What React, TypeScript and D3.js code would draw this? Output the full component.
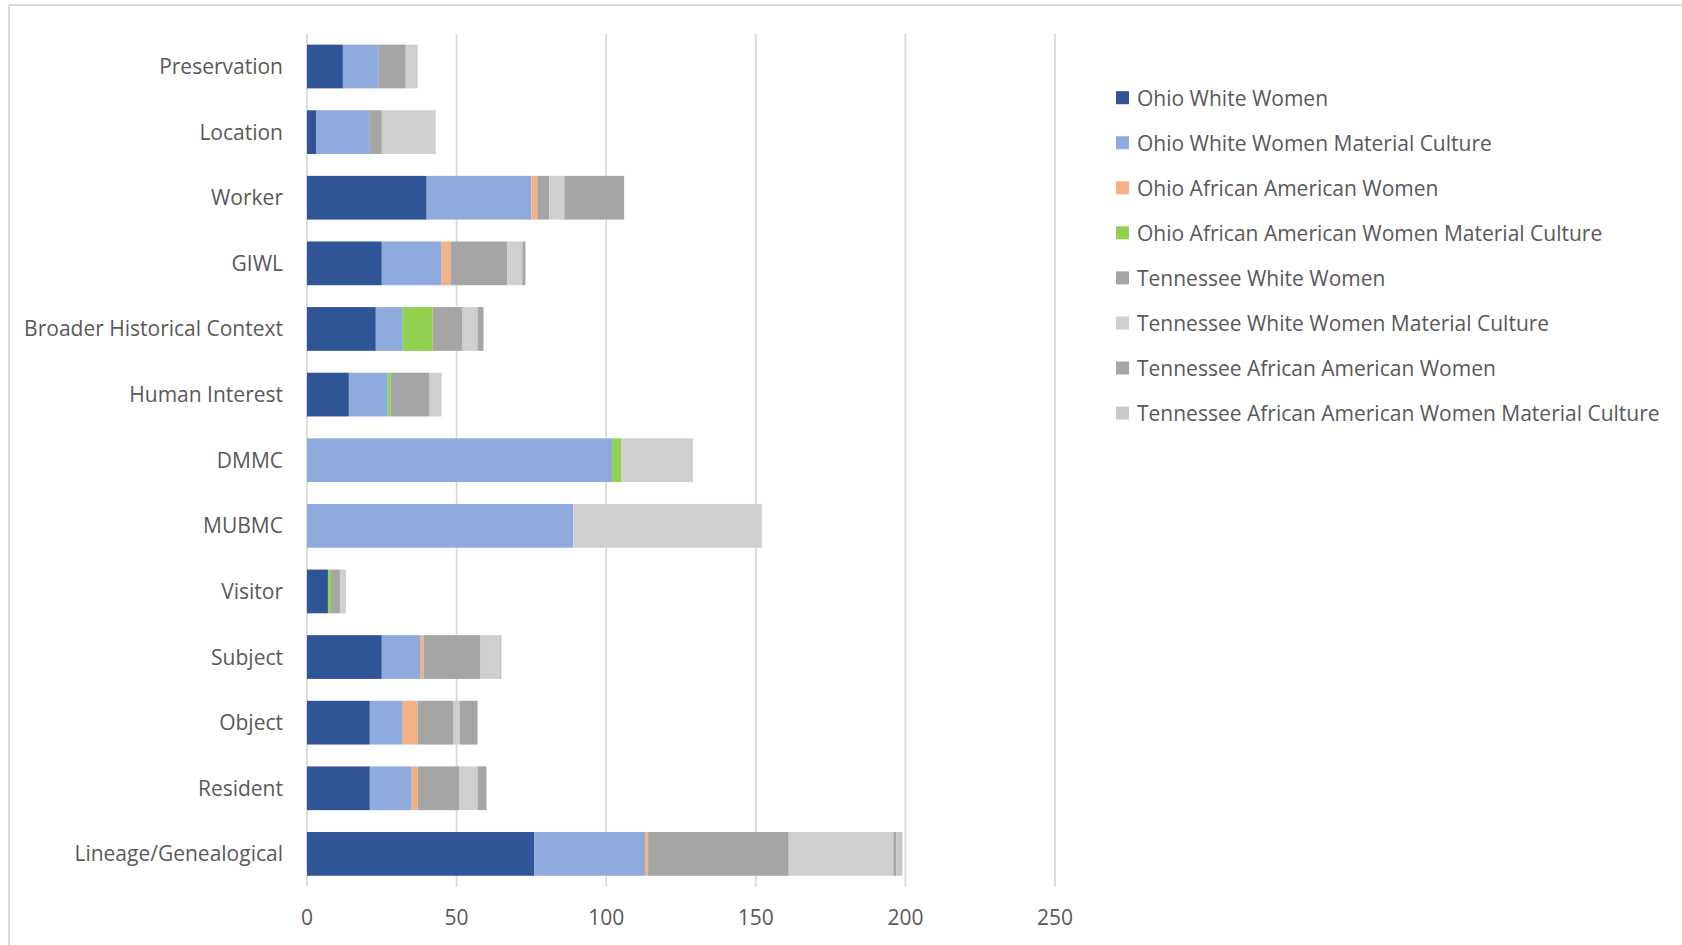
import React from "react";
import * as d3 from "d3";

// Categories, top to bottom
const categories = [
  "Preservation",
  "Location",
  "Worker",
  "GIWL",
  "Broader Historical Context",
  "Human Interest",
  "DMMC",
  "MUBMC",
  "Visitor",
  "Subject",
  "Object",
  "Resident",
  "Lineage/Genealogical",
];

const seriesNames = [
  "Ohio White Women",
  "Ohio White Women Material Culture",
  "Ohio African American Women",
  "Ohio African American Women Material Culture",
  "Tennessee White Women",
  "Tennessee White Women Material Culture",
  "Tennessee African American Women",
  "Tennessee African American Women Material Culture",
];

const seriesColors = [
  "#2F5597",
  "#8FAADC",
  "#F4B183",
  "#92D050",
  "#A5A5A5",
  "#D0CECE",
  "#A5A5A5",
  "#C9C9C9",
];

// One array per series, in category order
const ohioWhiteWomen = [12, 3, 40, 25, 23, 14, 0, 0, 7, 25, 21, 21, 76];
const ohioWhiteWomenMC = [12, 18, 35, 20, 9, 13, 102, 89, 0, 13, 11, 14, 37];
const ohioAAWomen = [0, 0, 2, 3, 0, 0, 0, 0, 0, 1, 5, 2, 1];
const ohioAAWomenMC = [0, 0, 0, 0, 10, 1, 3, 0, 1, 0, 0, 0, 0];
const tennWhiteWomen = [9, 4, 4, 19, 10, 13, 0, 0, 3, 19, 12, 14, 47];
const tennWhiteWomenMC = [4, 18, 5, 5, 5, 4, 24, 63, 2, 6, 2, 6, 35];
const tennAAWomen = [0, 0, 20, 1, 2, 0, 0, 0, 0, 0, 6, 3, 1];
const tennAAWomenMC = [0, 0, 0, 0, 0, 0, 0, 0, 0, 1, 0, 0, 2];

const seriesValues = [
  ohioWhiteWomen,
  ohioWhiteWomenMC,
  ohioAAWomen,
  ohioAAWomenMC,
  tennWhiteWomen,
  tennWhiteWomenMC,
  tennAAWomen,
  tennAAWomenMC,
];

const xTicks = [0, 50, 100, 150, 200, 250];

const W = 1682;
const H = 945;
const FONT = "'Open Sans', 'Noto Sans', sans-serif";
const TEXT = "#595959";
const GRID = "#D9D9D9";

export default function App() {
  const x = d3.scaleLinear().domain([0, 250]).range([307, 1055]);
  const y = d3
    .scaleBand<string>()
    .domain(categories)
    .range([33.7, 886.7])
    .paddingInner(1 / 3)
    .paddingOuter(1 / 6);

  const rows = categories.map((c, i) => {
    const o: Record<string, number | string> = { category: c };
    seriesNames.forEach((s, k) => (o[s] = seriesValues[k][i]));
    return o;
  });
  const stacked = d3.stack<any>().keys(seriesNames)(rows);

  const legendX = 1116;
  const legendY0 = 97.7;
  const legendStep = 45.05;

  return (
    <svg
      width={W}
      height={H}
      style={{ position: "absolute", left: 0, top: 0, background: "#fff" }}
      fontFamily={FONT}
    >
      <rect x={0} y={0} width={W} height={H} fill="#fff" />
      {/* chart frame */}
      <line x1={9} y1={5} x2={W} y2={5} stroke={GRID} strokeWidth={2} />
      <line x1={9} y1={5} x2={9} y2={H} stroke={GRID} strokeWidth={2} />

      {/* vertical gridlines */}
      {xTicks.map((t) => (
        <line
          key={t}
          x1={x(t)}
          x2={x(t)}
          y1={33.7}
          y2={886.7}
          stroke={GRID}
          strokeWidth={1.8}
        />
      ))}

      {/* stacked bars */}
      {stacked.map((layer, k) => (
        <g key={seriesNames[k]} fill={seriesColors[k]}>
          {layer.map((d, i) => {
            const w = x(d[1]) - x(d[0]);
            if (w <= 0) return null;
            return (
              <rect
                key={categories[i]}
                x={x(d[0])}
                y={y(categories[i])}
                width={w}
                height={y.bandwidth()}
              />
            );
          })}
        </g>
      ))}

      {/* category labels */}
      {categories.map((c) => (
        <text
          key={c}
          x={283}
          y={(y(c) as number) + y.bandwidth() / 2 - 0.5}
          textAnchor="end"
          dominantBaseline="central"
          fontSize={21}
          fill={TEXT}
        >
          {c}
        </text>
      ))}

      {/* x tick labels */}
      {xTicks.map((t) => (
        <text
          key={t}
          x={x(t)}
          y={917}
          textAnchor="middle"
          dominantBaseline="central"
          fontSize={21}
          fill={TEXT}
        >
          {t}
        </text>
      ))}

      {/* legend */}
      {seriesNames.map((s, k) => (
        <g key={s} transform={`translate(${legendX},${legendY0 + k * legendStep})`}>
          <rect x={0} y={-6.5} width={13} height={13} fill={seriesColors[k]} />
          <text x={21} y={0} dominantBaseline="central" fontSize={21} fill={TEXT}>
            {s}
          </text>
        </g>
      ))}
    </svg>
  );
}
